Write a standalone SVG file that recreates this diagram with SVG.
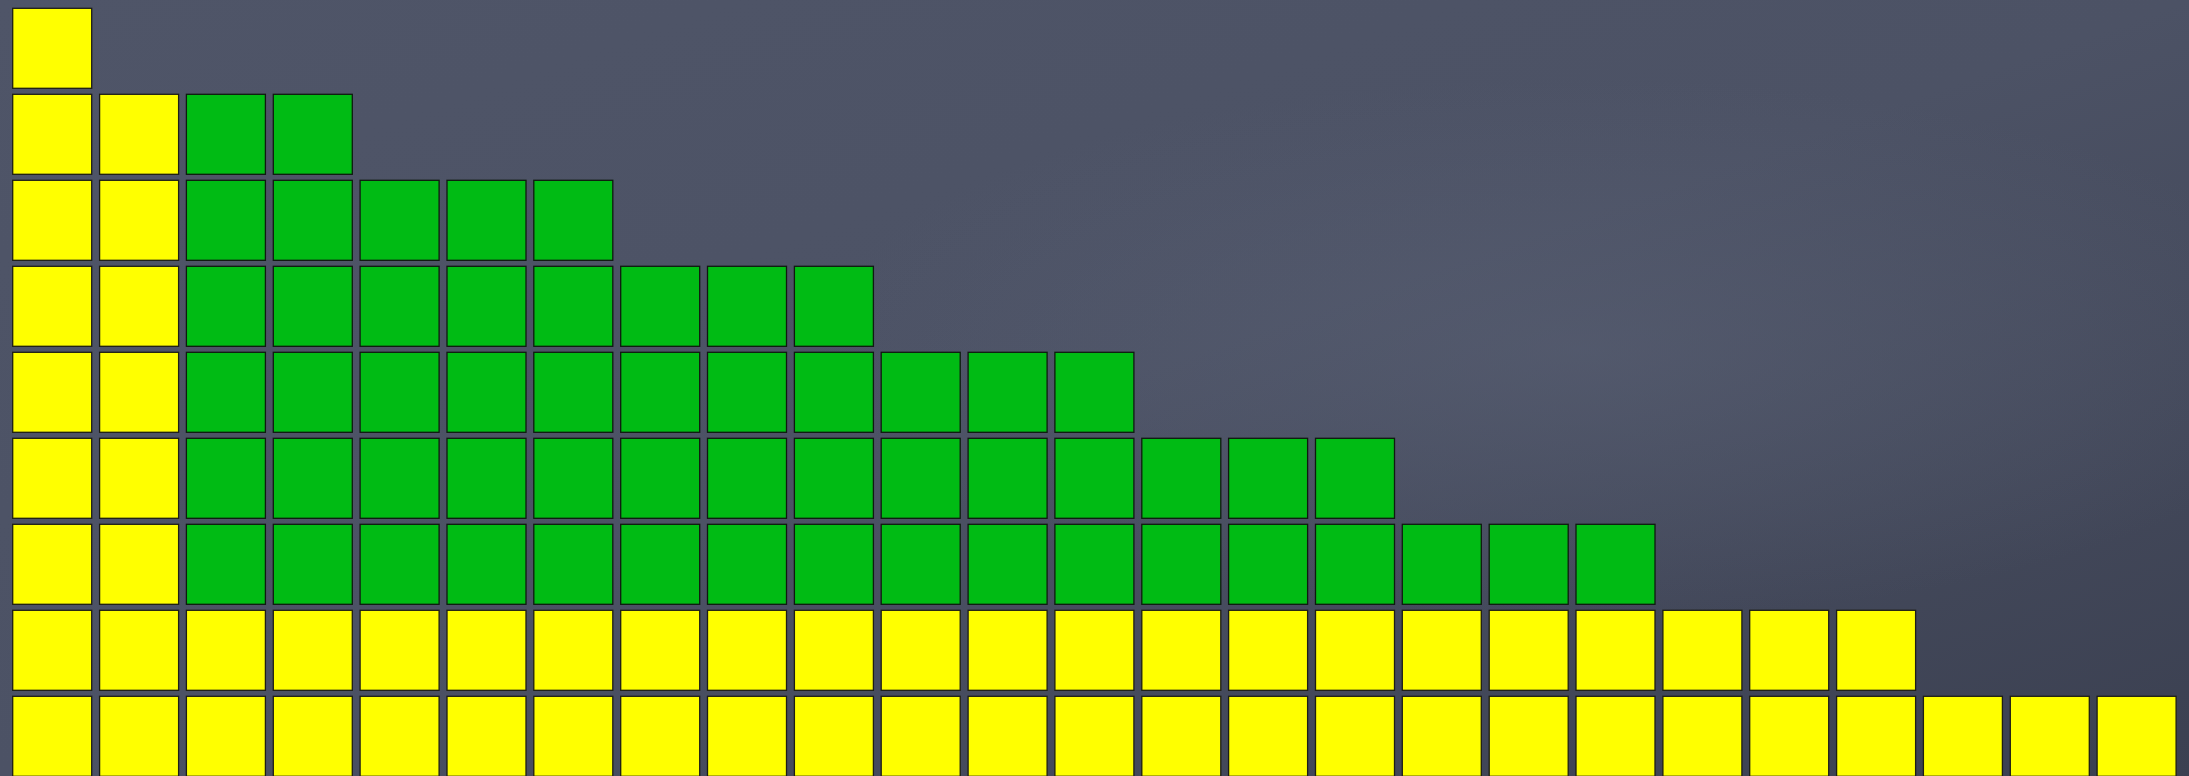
<svg xmlns="http://www.w3.org/2000/svg" xmlns:xlink="http://www.w3.org/1999/xlink" width="2189" height="776" viewBox="0 0 2189 776">
<defs>
<linearGradient id="bg" x1="0" y1="0" x2="1" y2="1">
<stop offset="0" stop-color="#4f5568"/>
<stop offset="0.5" stop-color="#4c5265"/>
<stop offset="1" stop-color="#3b4051"/>
</linearGradient>
<radialGradient id="glow" cx="0.72" cy="0.45" r="0.35">
<stop offset="0" stop-color="#5a6175" stop-opacity="0.55"/>
<stop offset="1" stop-color="#5a6175" stop-opacity="0"/>
</radialGradient>
<rect id="sq" x="0" y="0" width="79" height="80"/>
</defs>
<style>
.y{fill:#ffff00;stroke:#1e1e14;stroke-width:1.3}
.g{fill:#00bb14;stroke:#0f1a0f;stroke-width:1.3}
</style>
<rect x="0" y="0" width="2189" height="776" fill="url(#bg)"/>
<rect x="0" y="0" width="2189" height="776" fill="url(#glow)"/>
<g id="connectors"/>
<g id="row0">
<g id="r0c0"><use href="#sq" class="y" x="12.7" y="8.3"/></g>
</g>
<g id="row1">
<g id="r1c0"><use href="#sq" class="y" x="12.7" y="94.3"/></g>
<g id="r1c1"><use href="#sq" class="y" x="99.6" y="94.3"/></g>
<g id="r1c2"><use href="#sq" class="g" x="186.4" y="94.3"/></g>
<g id="r1c3"><use href="#sq" class="g" x="273.3" y="94.3"/></g>
</g>
<g id="row2">
<g id="r2c0"><use href="#sq" class="y" x="12.7" y="180.3"/></g>
<g id="r2c1"><use href="#sq" class="y" x="99.6" y="180.3"/></g>
<g id="r2c2"><use href="#sq" class="g" x="186.4" y="180.3"/></g>
<g id="r2c3"><use href="#sq" class="g" x="273.3" y="180.3"/></g>
<g id="r2c4"><use href="#sq" class="g" x="360.1" y="180.3"/></g>
<g id="r2c5"><use href="#sq" class="g" x="447.0" y="180.3"/></g>
<g id="r2c6"><use href="#sq" class="g" x="533.8" y="180.3"/></g>
</g>
<g id="row3">
<g id="r3c0"><use href="#sq" class="y" x="12.7" y="266.3"/></g>
<g id="r3c1"><use href="#sq" class="y" x="99.6" y="266.3"/></g>
<g id="r3c2"><use href="#sq" class="g" x="186.4" y="266.3"/></g>
<g id="r3c3"><use href="#sq" class="g" x="273.3" y="266.3"/></g>
<g id="r3c4"><use href="#sq" class="g" x="360.1" y="266.3"/></g>
<g id="r3c5"><use href="#sq" class="g" x="447.0" y="266.3"/></g>
<g id="r3c6"><use href="#sq" class="g" x="533.8" y="266.3"/></g>
<g id="r3c7"><use href="#sq" class="g" x="620.7" y="266.3"/></g>
<g id="r3c8"><use href="#sq" class="g" x="707.5" y="266.3"/></g>
<g id="r3c9"><use href="#sq" class="g" x="794.4" y="266.3"/></g>
</g>
<g id="row4">
<g id="r4c0"><use href="#sq" class="y" x="12.7" y="352.3"/></g>
<g id="r4c1"><use href="#sq" class="y" x="99.6" y="352.3"/></g>
<g id="r4c2"><use href="#sq" class="g" x="186.4" y="352.3"/></g>
<g id="r4c3"><use href="#sq" class="g" x="273.3" y="352.3"/></g>
<g id="r4c4"><use href="#sq" class="g" x="360.1" y="352.3"/></g>
<g id="r4c5"><use href="#sq" class="g" x="447.0" y="352.3"/></g>
<g id="r4c6"><use href="#sq" class="g" x="533.8" y="352.3"/></g>
<g id="r4c7"><use href="#sq" class="g" x="620.7" y="352.3"/></g>
<g id="r4c8"><use href="#sq" class="g" x="707.5" y="352.3"/></g>
<g id="r4c9"><use href="#sq" class="g" x="794.4" y="352.3"/></g>
<g id="r4c10"><use href="#sq" class="g" x="881.2" y="352.3"/></g>
<g id="r4c11"><use href="#sq" class="g" x="968.1" y="352.3"/></g>
<g id="r4c12"><use href="#sq" class="g" x="1054.9" y="352.3"/></g>
</g>
<g id="row5">
<g id="r5c0"><use href="#sq" class="y" x="12.7" y="438.3"/></g>
<g id="r5c1"><use href="#sq" class="y" x="99.6" y="438.3"/></g>
<g id="r5c2"><use href="#sq" class="g" x="186.4" y="438.3"/></g>
<g id="r5c3"><use href="#sq" class="g" x="273.3" y="438.3"/></g>
<g id="r5c4"><use href="#sq" class="g" x="360.1" y="438.3"/></g>
<g id="r5c5"><use href="#sq" class="g" x="447.0" y="438.3"/></g>
<g id="r5c6"><use href="#sq" class="g" x="533.8" y="438.3"/></g>
<g id="r5c7"><use href="#sq" class="g" x="620.7" y="438.3"/></g>
<g id="r5c8"><use href="#sq" class="g" x="707.5" y="438.3"/></g>
<g id="r5c9"><use href="#sq" class="g" x="794.4" y="438.3"/></g>
<g id="r5c10"><use href="#sq" class="g" x="881.2" y="438.3"/></g>
<g id="r5c11"><use href="#sq" class="g" x="968.1" y="438.3"/></g>
<g id="r5c12"><use href="#sq" class="g" x="1054.9" y="438.3"/></g>
<g id="r5c13"><use href="#sq" class="g" x="1141.8" y="438.3"/></g>
<g id="r5c14"><use href="#sq" class="g" x="1228.6" y="438.3"/></g>
<g id="r5c15"><use href="#sq" class="g" x="1315.5" y="438.3"/></g>
</g>
<g id="row6">
<g id="r6c0"><use href="#sq" class="y" x="12.7" y="524.3"/></g>
<g id="r6c1"><use href="#sq" class="y" x="99.6" y="524.3"/></g>
<g id="r6c2"><use href="#sq" class="g" x="186.4" y="524.3"/></g>
<g id="r6c3"><use href="#sq" class="g" x="273.3" y="524.3"/></g>
<g id="r6c4"><use href="#sq" class="g" x="360.1" y="524.3"/></g>
<g id="r6c5"><use href="#sq" class="g" x="447.0" y="524.3"/></g>
<g id="r6c6"><use href="#sq" class="g" x="533.8" y="524.3"/></g>
<g id="r6c7"><use href="#sq" class="g" x="620.7" y="524.3"/></g>
<g id="r6c8"><use href="#sq" class="g" x="707.5" y="524.3"/></g>
<g id="r6c9"><use href="#sq" class="g" x="794.4" y="524.3"/></g>
<g id="r6c10"><use href="#sq" class="g" x="881.2" y="524.3"/></g>
<g id="r6c11"><use href="#sq" class="g" x="968.1" y="524.3"/></g>
<g id="r6c12"><use href="#sq" class="g" x="1054.9" y="524.3"/></g>
<g id="r6c13"><use href="#sq" class="g" x="1141.8" y="524.3"/></g>
<g id="r6c14"><use href="#sq" class="g" x="1228.6" y="524.3"/></g>
<g id="r6c15"><use href="#sq" class="g" x="1315.5" y="524.3"/></g>
<g id="r6c16"><use href="#sq" class="g" x="1402.3" y="524.3"/></g>
<g id="r6c17"><use href="#sq" class="g" x="1489.2" y="524.3"/></g>
<g id="r6c18"><use href="#sq" class="g" x="1576.0" y="524.3"/></g>
</g>
<g id="row7">
<g id="r7c0"><use href="#sq" class="y" x="12.7" y="610.3"/></g>
<g id="r7c1"><use href="#sq" class="y" x="99.6" y="610.3"/></g>
<g id="r7c2"><use href="#sq" class="y" x="186.4" y="610.3"/></g>
<g id="r7c3"><use href="#sq" class="y" x="273.3" y="610.3"/></g>
<g id="r7c4"><use href="#sq" class="y" x="360.1" y="610.3"/></g>
<g id="r7c5"><use href="#sq" class="y" x="447.0" y="610.3"/></g>
<g id="r7c6"><use href="#sq" class="y" x="533.8" y="610.3"/></g>
<g id="r7c7"><use href="#sq" class="y" x="620.7" y="610.3"/></g>
<g id="r7c8"><use href="#sq" class="y" x="707.5" y="610.3"/></g>
<g id="r7c9"><use href="#sq" class="y" x="794.4" y="610.3"/></g>
<g id="r7c10"><use href="#sq" class="y" x="881.2" y="610.3"/></g>
<g id="r7c11"><use href="#sq" class="y" x="968.1" y="610.3"/></g>
<g id="r7c12"><use href="#sq" class="y" x="1054.9" y="610.3"/></g>
<g id="r7c13"><use href="#sq" class="y" x="1141.8" y="610.3"/></g>
<g id="r7c14"><use href="#sq" class="y" x="1228.6" y="610.3"/></g>
<g id="r7c15"><use href="#sq" class="y" x="1315.5" y="610.3"/></g>
<g id="r7c16"><use href="#sq" class="y" x="1402.3" y="610.3"/></g>
<g id="r7c17"><use href="#sq" class="y" x="1489.2" y="610.3"/></g>
<g id="r7c18"><use href="#sq" class="y" x="1576.0" y="610.3"/></g>
<g id="r7c19"><use href="#sq" class="y" x="1662.9" y="610.3"/></g>
<g id="r7c20"><use href="#sq" class="y" x="1749.7" y="610.3"/></g>
<g id="r7c21"><use href="#sq" class="y" x="1836.6" y="610.3"/></g>
</g>
<g id="row8">
<g id="r8c0"><use href="#sq" class="y" x="12.7" y="696.3"/></g>
<g id="r8c1"><use href="#sq" class="y" x="99.6" y="696.3"/></g>
<g id="r8c2"><use href="#sq" class="y" x="186.4" y="696.3"/></g>
<g id="r8c3"><use href="#sq" class="y" x="273.3" y="696.3"/></g>
<g id="r8c4"><use href="#sq" class="y" x="360.1" y="696.3"/></g>
<g id="r8c5"><use href="#sq" class="y" x="447.0" y="696.3"/></g>
<g id="r8c6"><use href="#sq" class="y" x="533.8" y="696.3"/></g>
<g id="r8c7"><use href="#sq" class="y" x="620.7" y="696.3"/></g>
<g id="r8c8"><use href="#sq" class="y" x="707.5" y="696.3"/></g>
<g id="r8c9"><use href="#sq" class="y" x="794.4" y="696.3"/></g>
<g id="r8c10"><use href="#sq" class="y" x="881.2" y="696.3"/></g>
<g id="r8c11"><use href="#sq" class="y" x="968.1" y="696.3"/></g>
<g id="r8c12"><use href="#sq" class="y" x="1054.9" y="696.3"/></g>
<g id="r8c13"><use href="#sq" class="y" x="1141.8" y="696.3"/></g>
<g id="r8c14"><use href="#sq" class="y" x="1228.6" y="696.3"/></g>
<g id="r8c15"><use href="#sq" class="y" x="1315.5" y="696.3"/></g>
<g id="r8c16"><use href="#sq" class="y" x="1402.3" y="696.3"/></g>
<g id="r8c17"><use href="#sq" class="y" x="1489.2" y="696.3"/></g>
<g id="r8c18"><use href="#sq" class="y" x="1576.0" y="696.3"/></g>
<g id="r8c19"><use href="#sq" class="y" x="1662.9" y="696.3"/></g>
<g id="r8c20"><use href="#sq" class="y" x="1749.7" y="696.3"/></g>
<g id="r8c21"><use href="#sq" class="y" x="1836.6" y="696.3"/></g>
<g id="r8c22"><use href="#sq" class="y" x="1923.4" y="696.3"/></g>
<g id="r8c23"><use href="#sq" class="y" x="2010.3" y="696.3"/></g>
<g id="r8c24"><use href="#sq" class="y" x="2097.1" y="696.3"/></g>
</g>
</svg>
